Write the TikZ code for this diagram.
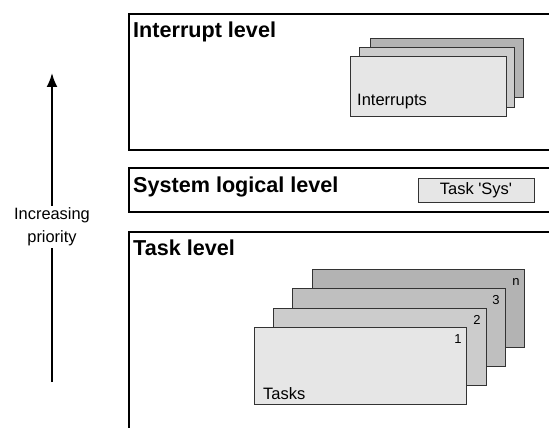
\documentclass[tikz,border=0pt]{standalone}
\usepackage{fontspec}
\setmainfont{Liberation Sans}
\usetikzlibrary{arrows.meta}
\definecolor{cardA}{HTML}{E6E6E6}
\definecolor{cardB}{HTML}{CCCCCC}
\definecolor{cardC}{HTML}{BFBFBF}
\definecolor{cardD}{HTML}{B3B3B3}
\definecolor{edge}{HTML}{333333}
\tikzset{
  frame/.style={line width=2pt,draw=black},
  card/.style={draw=edge,line width=1pt},
  title/.style={font=\bfseries\fontsize{21.6}{24}\selectfont,anchor=west,inner sep=0pt},
  lbl/.style={font=\fontsize{16.5}{19}\selectfont,inner sep=0pt},
  num/.style={font=\fontsize{13}{15}\selectfont,inner sep=0pt},
}
\begin{document}
\begin{tikzpicture}[x=1pt,y=-1pt]
\useasboundingbox (0,0) rectangle (549,428);
\clip (0,0) rectangle (549,428);
% frames
\draw[frame] (600,14) -- (129,14) -- (129,150) -- (600,150);
\draw[frame] (600,168) -- (129,168) -- (129,212) -- (600,212);
\draw[frame] (600,232) -- (129,232) -- (129,440);
% titles
\node[title] (tint) at (133,32) {Interrupt level};
\node[title] (tsys) at (133,187) {System logical level};
\node[title] (ttask) at (133,248) {Task level};
% interrupt cards
\draw[card,fill=cardD] (370,39) rectangle (523,97);
\draw[card,fill=cardB] (359,48) rectangle (514,107);
\draw[card,fill=cardA] (350,57) rectangle (506,116);
\node[lbl,anchor=west] (intr) at (357,102) {Interrupts};
% task sys
\node[card,fill=cardA,minimum width=116pt,minimum height=24pt,inner sep=0pt,font=\fontsize{16.5}{19}\selectfont] (sys) at (476,190) {Task \textquotesingle Sys\textquotesingle};
% task cards
\draw[card,fill=cardD] (312,269) rectangle (524,347);
\draw[card,fill=cardC] (292,288) rectangle (505,366);
\draw[card,fill=cardB] (273,308) rectangle (486,385);
\draw[card,fill=cardA] (254,327) rectangle (466,404);
\node[num] (n1) at (458,339) {1};
\node[num] (n2) at (477,320) {2};
\node[num] (n3) at (496,300) {3};
\node[num] (nn) at (516,282) {n};
\node[lbl,anchor=west] (tasks) at (263,394) {Tasks};
% priority arrow
\coordinate (pbot) at (52,382);
\coordinate (ptop) at (52,73);
\node[lbl,align=center,fill=white,inner sep=2pt,font=\fontsize{16.4}{23}\selectfont] (prio) at (52,227) {Increasing\\priority};
\draw[line width=2pt] (pbot) -- (prio.south);
\draw[line width=2pt,-{Latex[length=14pt,width=11pt]}] (prio.north) -- (ptop);
\end{tikzpicture}
\end{document}
